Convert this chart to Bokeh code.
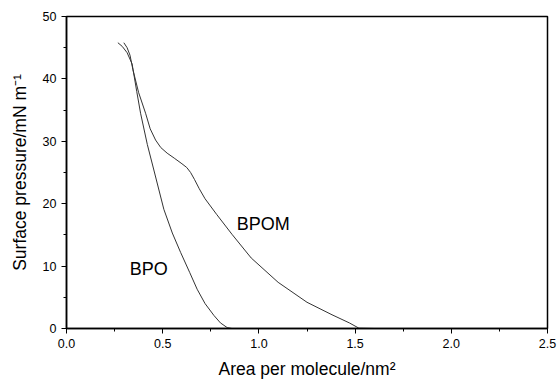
from bokeh.plotting import figure
from bokeh.models import FixedTicker, Label
from bokeh.embed import file_html
from bokeh.resources import INLINE

# Data
bpo_area = [0.267, 0.29, 0.315, 0.341, 0.365, 0.385, 0.420, 0.454, 0.506, 0.55, 0.593, 0.64,
            0.679, 0.72, 0.766, 0.80, 0.835, 0.86, 0.90]
bpo_pressure = [45.8, 45.2, 44.2, 42.4, 38.0, 34.5, 29.5, 25.4, 19.1, 15.3, 12.2, 9.0,
                6.3, 4.0, 2.1, 0.9, 0.15, 0.0, 0.0]

bpom_area = [0.298, 0.315, 0.330, 0.345, 0.375, 0.411, 0.435, 0.463, 0.49, 0.523, 0.56, 0.60,
             0.625, 0.645, 0.665, 0.69, 0.72, 0.78, 0.86, 0.96, 1.10, 1.25, 1.38, 1.47, 1.52, 1.60]
bpom_pressure = [45.8, 45.0, 43.8, 41.5, 37.8, 34.5, 32.0, 30.2, 29.0, 28.1, 27.3, 26.4,
                 25.8, 25.0, 23.9, 22.4, 20.8, 18.3, 15.1, 11.3, 7.4, 4.2, 2.2, 0.9, 0.05, 0.0]

x_ticks = [0.0, 0.5, 1.0, 1.5, 2.0, 2.5]
x_minor = [0.25, 0.75, 1.25, 1.75, 2.25]
y_ticks = [0, 10, 20, 30, 40, 50]
y_minor = [5, 15, 25, 35, 45]

p = figure(width=557, height=381, output_backend="svg", toolbar_location=None,
           x_range=(0, 2.5), y_range=(0, 50),
           min_border_left=66, min_border_right=10, min_border_top=16, min_border_bottom=51)
p.background_fill_color = "white"
p.border_fill_color = "white"
p.xgrid.visible = False
p.ygrid.visible = False
p.outline_line_color = "black"
p.outline_line_width = 1.5

p.line(bpo_area, bpo_pressure, line_color="#333333", line_width=1)
p.line(bpom_area, bpom_pressure, line_color="#333333", line_width=1)

font = "Liberation Sans"
for ax in (p.xaxis[0], p.yaxis[0]):
    ax.axis_line_color = "black"
    ax.axis_line_width = 1.5
    ax.major_tick_line_color = "black"
    ax.minor_tick_line_color = "black"
    ax.major_tick_out = 5
    ax.major_tick_in = 0
    ax.minor_tick_out = 3
    ax.minor_tick_in = 0
    ax.major_label_text_font = font
    ax.major_label_text_font_size = "12.5px"
    ax.major_label_text_color = "black"
    ax.axis_label_text_font = font
    ax.axis_label_text_font_size = "17.5px"
    ax.axis_label_text_font_style = "normal"
    ax.axis_label_text_color = "black"

p.xaxis[0].ticker = FixedTicker(ticks=x_ticks, minor_ticks=x_minor)
p.yaxis[0].ticker = FixedTicker(ticks=y_ticks, minor_ticks=y_minor)
p.xaxis[0].major_label_overrides = {t: f"{t:.1f}" for t in x_ticks}
p.xaxis[0].axis_label = "Area per molecule/nm²"
p.yaxis[0].axis_label = "Surface pressure/mN m⁻¹"
p.xaxis[0].axis_label_standoff = 8
p.yaxis[0].axis_label_standoff = 10

p.add_layout(Label(x=0.427, y=9.6, text="BPO", text_font=font, text_font_size="18px",
                   text_align="center", text_baseline="middle", text_color="black"))
p.add_layout(Label(x=1.022, y=16.7, text="BPOM", text_font=font, text_font_size="18px",
                   text_align="center", text_baseline="middle", text_color="black"))

open("out.html", "w").write(file_html(p, INLINE))
